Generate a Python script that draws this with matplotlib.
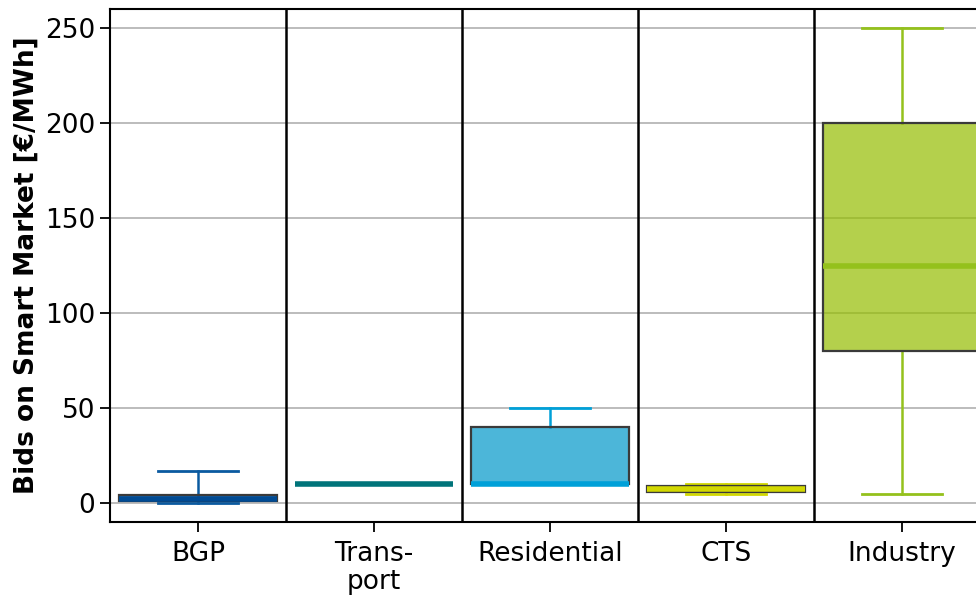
import matplotlib
matplotlib.use("Agg")
import matplotlib.pyplot as plt
from matplotlib.colors import to_rgba

# Sectors and their bid distributions (€/MWh)
categories = ["BGP", "Trans-\nport", "Residential", "CTS", "Industry"]
whis_low = [0, 10, 10, 5, 5]
q1 = [1, 10, 10, 6, 80]
median = [2, 10, 10, 7.5, 125]
q3 = [4, 10, 40, 9, 200]
whis_high = [17, 10, 50, 10, 250]

line_colors = ["#0a5aa0", "#00747a", "#00a0d8", "#d2d800", "#94c11c"]
fill_colors = ["#004a93", "#00747a", "#0097ca", "#d2d800", "#95bd00"]
median_colors = ["#004a93", "#00747a", "#00a0d8", "#d2d800", "#94c11c"]

fig = plt.figure(figsize=(9.76, 5.95), dpi=100)
ax = fig.add_axes([110 / 976, 1 - 522 / 595, 880 / 976, 513 / 595])

stats = []
for i, name in enumerate(categories):
    stats.append(dict(label=name, whislo=whis_low[i], q1=q1[i], med=median[i],
                      q3=q3[i], whishi=whis_high[i], fliers=[]))

positions = list(range(len(categories)))
bp = ax.bxp(stats, positions=positions, widths=0.9, patch_artist=True,
            showfliers=False, manage_ticks=False)

for i in range(len(categories)):
    box = bp["boxes"][i]
    box.set_facecolor(to_rgba(fill_colors[i], 0.7))
    box.set_edgecolor("#3a3a3a")
    box.set_linewidth(1.6)
    box.set_zorder(2)
    for w in bp["whiskers"][2 * i:2 * i + 2]:
        w.set_color(line_colors[i])
        w.set_linewidth(1.8)
        w.set_zorder(1.5)
    for c in bp["caps"][2 * i:2 * i + 2]:
        c.set_color(line_colors[i])
        c.set_linewidth(2)
        c.set_zorder(1.5)
    m = bp["medians"][i]
    m.set_color(median_colors[i])
    m.set_linewidth(4)
    m.set_solid_capstyle("butt")
    m.set_zorder(3)

# Sector separators
for x in [0.5, 1.5, 2.5, 3.5]:
    ax.axvline(x, color="black", linewidth=1.8, zorder=4)

ax.set_xlim(-0.5, 4.5)
ax.set_ylim(-10, 260)
ax.set_yticks([0, 50, 100, 150, 200, 250])
ax.set_xticks(positions)
ax.set_xticklabels(categories, linespacing=1.08)
ax.yaxis.grid(True, color="#b0b0b0", linewidth=1.2, zorder=0)
ax.set_axisbelow(True)
ax.tick_params(axis="both", labelsize=19, length=7, width=1.3)
ax.tick_params(axis="x", pad=7)
for s in ax.spines.values():
    s.set_linewidth(1.5)
    s.set_color("black")

ax.set_ylabel("Bids on Smart Market [€/MWh]", fontsize=19, fontweight="bold",
              labelpad=4)

fig.savefig("out.png", dpi=100)
